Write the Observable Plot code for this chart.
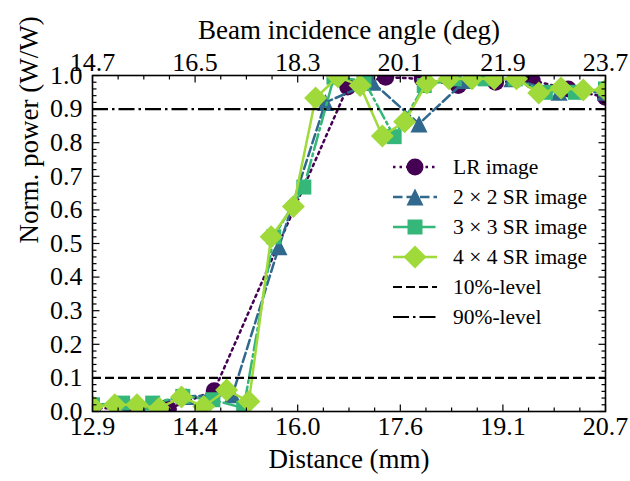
<!DOCTYPE html>
<html><head><meta charset="utf-8">
<script src="https://cdn.jsdelivr.net/npm/d3@7"></script>
<script src="https://cdn.jsdelivr.net/npm/@observablehq/plot@0.6"></script>
<style>
html,body{margin:0;padding:0;background:#fff;}
</style>
</head><body>
<div id="chart"></div>
<script>
// ---- axis values ----
const xDomain = [12.86, 20.70];
const xTicks = [12.86, 14.428, 15.996, 17.564, 19.132, 20.70];
const xTickLabels = ["12.9", "14.4", "16.0", "17.6", "19.1", "20.7"];
const angleTickLabels = ["14.7", "16.5", "18.3", "20.1", "21.9", "23.7"];
const yTicks = [0, 0.1, 0.2, 0.3, 0.4, 0.5, 0.6, 0.7, 0.8, 0.9, 1.0];
const yTickLabels = ["0.0", "0.1", "0.2", "0.3", "0.4", "0.5", "0.6", "0.7", "0.8", "0.9", "1.0"];

// ---- series ----
const lrX = [12.86, 13.44, 14.02, 14.72, 16.76, 17.34, 17.90, 18.45, 19.02, 19.58, 20.13, 20.70];
const lrY = [0.01, 0.01, 0.008, 0.062, 0.966, 0.995, 0.99, 0.97, 0.98, 0.985, 0.96, 0.935];

const sr2X = [12.86, 13.57, 14.29, 15.00, 15.71, 16.42, 17.14, 17.85, 18.56, 19.27, 19.99, 20.70];
const sr2Y = [0.02, 0.015, 0.045, 0.05, 0.49, 0.92, 0.98, 0.856, 0.985, 0.99, 0.95, 0.95];

const sr3X = [12.86, 13.32, 13.78, 14.24, 14.70, 15.17, 15.63, 16.09, 16.55, 17.01, 17.47, 17.93, 18.39, 18.86, 19.32, 19.78, 20.24, 20.70];
const sr3Y = [0.02, 0.025, 0.025, 0.045, 0.035, 0.01, 0.52, 0.668, 0.995, 0.985, 0.818, 0.97, 0.99, 0.99, 0.99, 0.95, 0.95, 0.96];

const sr4X = [12.86, 13.20, 13.54, 13.88, 14.22, 14.56, 14.91, 15.25, 15.59, 15.93, 16.27, 16.61, 16.95, 17.29, 17.63, 17.97, 18.31, 18.66, 19.00, 19.34, 19.68, 20.02, 20.36, 20.70];
const sr4Y = [0.015, 0.02, 0.02, 0.01, 0.043, 0.015, 0.064, 0.03, 0.52, 0.61, 0.933, 0.996, 0.97, 0.82, 0.862, 0.978, 0.99, 0.99, 0.99, 0.99, 0.948, 0.963, 0.957, 0.957];

const seriesNames = ["LR image", "2 \u00d7 2 SR image", "3 \u00d7 3 SR image", "4 \u00d7 4 SR image"];
const levelValues = [0.1, 0.9];
const levelNames = ["10%-level", "90%-level"];

// ---- styles ----
const colors = ["#440154", "#31688e", "#35b779", "#9fda3a"];
const dashes = ["2.5,4", "9.5,4", "16,4,2.5,4", null];
const levelDashes = ["9,4", "16,4,2.5,4"];
const FONT = "'Liberation Serif', 'Times New Roman', serif";

const rad = (size) => Math.sqrt(size / Math.PI);
const symCircle = {draw(c, s) { const r = rad(s); c.moveTo(r, 0); c.arc(0, 0, r, 0, 2 * Math.PI); c.closePath(); }};
const symTriangle = {draw(c, s) { const r = rad(s); c.moveTo(0, -r); c.lineTo(r, r); c.lineTo(-r, r); c.closePath(); }};
const symSquare = {draw(c, s) { const r = rad(s); c.rect(-r, -r, 2 * r, 2 * r); }};
const symDiamond = {draw(c, s) { const r = rad(s); c.moveTo(0, -r); c.lineTo(r, 0); c.lineTo(0, r); c.lineTo(-r, 0); c.closePath(); }};
const symbols = [symCircle, symTriangle, symSquare, symDiamond];
const symR = [8.5, 8.5, 7.5, 11.5];

const tickUp = {draw(c, s) { const r = rad(s); c.moveTo(0, 0); c.lineTo(0, -r); }};
const tickDown = {draw(c, s) { const r = rad(s); c.moveTo(0, 0); c.lineTo(0, r); }};
const tickRight = {draw(c, s) { const r = rad(s); c.moveTo(0, 0); c.lineTo(r, 0); }};
const tickLeft = {draw(c, s) { const r = rad(s); c.moveTo(0, 0); c.lineTo(-r, 0); }};

const seriesX = [lrX, sr2X, sr3X, sr4X];
const seriesY = [lrY, sr2Y, sr3Y, sr4Y];
const tables = seriesX.map((xs, k) => xs.map((x, i) => ({x, y: seriesY[k][i]})));

// minor ticks
const xMinor = [];
for (let i = 0; i < xTicks.length - 1; i++) for (let j = 1; j < 4; j++) xMinor.push(xTicks[i] + (xTicks[i + 1] - xTicks[i]) * j / 4);
const yMinor = [];
for (let i = 0; i < yTicks.length - 1; i++) for (let j = 1; j < 5; j++) yMinor.push(yTicks[i] + (yTicks[i + 1] - yTicks[i]) * j / 5);

const marks = [];
tables.forEach((data, k) => {
  marks.push(Plot.line(data, {x: "x", y: "y", stroke: colors[k], strokeWidth: 2.5, strokeDasharray: dashes[k], clip: true}));
  marks.push(Plot.dot(data, {x: "x", y: "y", symbol: symbols[k], r: symR[k], fill: colors[k], stroke: "none", clip: true}));
});
levelValues.forEach((v, k) => {
  marks.push(Plot.ruleY([v], {stroke: "black", strokeWidth: 2.2, strokeDasharray: levelDashes[k]}));
});
const tk = {stroke: "black", strokeWidth: 1.2, fill: "none"};
marks.push(
  Plot.dot(xTicks, {x: d => d, frameAnchor: "bottom", symbol: tickUp, r: 7, ...tk}),
  Plot.dot(xMinor, {x: d => d, frameAnchor: "bottom", symbol: tickUp, r: 4, ...tk}),
  Plot.dot(xTicks, {x: d => d, frameAnchor: "top", symbol: tickDown, r: 7, ...tk}),
  Plot.dot(xMinor, {x: d => d, frameAnchor: "top", symbol: tickDown, r: 4, ...tk}),
  Plot.dot(yTicks, {y: d => d, frameAnchor: "left", symbol: tickRight, r: 7, ...tk}),
  Plot.dot(yMinor, {y: d => d, frameAnchor: "left", symbol: tickRight, r: 4, ...tk}),
  Plot.dot(yTicks, {y: d => d, frameAnchor: "right", symbol: tickLeft, r: 7, ...tk}),
  Plot.dot(yMinor, {y: d => d, frameAnchor: "right", symbol: tickLeft, r: 4, ...tk}),
  Plot.frame({stroke: "black", strokeWidth: 1.6}),
  Plot.text(xTicks, {x: d => d, frameAnchor: "bottom", dy: 23, text: (d, i) => xTickLabels[i], fontSize: 26, fill: "black"}),
  Plot.text(xTicks, {x: d => d, frameAnchor: "top", dy: -23, text: (d, i) => angleTickLabels[i], fontSize: 26, fill: "black"}),
  Plot.text(yTicks, {y: d => d, frameAnchor: "left", dx: -10, textAnchor: "end", text: (d, i) => yTickLabels[i], fontSize: 26, fill: "black"}),
  Plot.text(["Distance (mm)"], {frameAnchor: "bottom", dy: 56, text: d => d, fontSize: 27, fill: "black"}),
  Plot.text(["Beam incidence angle (deg)"], {frameAnchor: "top", dy: -56, text: d => d, fontSize: 27, fill: "black"}),
  Plot.text(["Norm. power (W/W)"], {frameAnchor: "left", dx: -63, rotate: -90, text: d => d, fontSize: 27, fill: "black"})
);

const svg = Plot.plot({
  width: 630, height: 481,
  marginLeft: 92, marginRight: 25, marginTop: 75, marginBottom: 70,
  x: {domain: xDomain, axis: null},
  y: {domain: [0, 1], axis: null},
  style: {fontFamily: FONT, background: "white", color: "black", overflow: "visible"},
  marks
});

// ---- legend (inside plot area, pixel layout) ----
const g = d3.select(svg).append("g").attr("font-family", FONT).attr("font-size", 21.5).attr("text-anchor", "start");
const rowY = (i) => 167 + i * 30;
const lx0 = 393, lx1 = 437, lxm = 415, ltx = 453;
seriesNames.forEach((name, k) => {
  const y = rowY(k);
  g.append("line").attr("x1", lx0).attr("x2", lx1).attr("y1", y).attr("y2", y)
    .attr("stroke", colors[k]).attr("stroke-width", 2.5).attr("stroke-dasharray", dashes[k]);
  g.append("path").attr("transform", `translate(${lxm},${y})`)
    .attr("d", d3.symbol(symbols[k], symR[k] * symR[k] * Math.PI)()).attr("fill", colors[k]);
  g.append("text").attr("x", ltx).attr("y", y).attr("dy", "0.32em").attr("fill", "black").text(name);
});
levelNames.forEach((name, k) => {
  const y = rowY(4 + k);
  g.append("line").attr("x1", lx0).attr("x2", lx1).attr("y1", y).attr("y2", y)
    .attr("stroke", "black").attr("stroke-width", 2.2).attr("stroke-dasharray", levelDashes[k]);
  g.append("text").attr("x", ltx).attr("y", y).attr("dy", "0.32em").attr("fill", "black").text(name);
});

document.getElementById("chart").appendChild(svg);
</script>
</body></html>
